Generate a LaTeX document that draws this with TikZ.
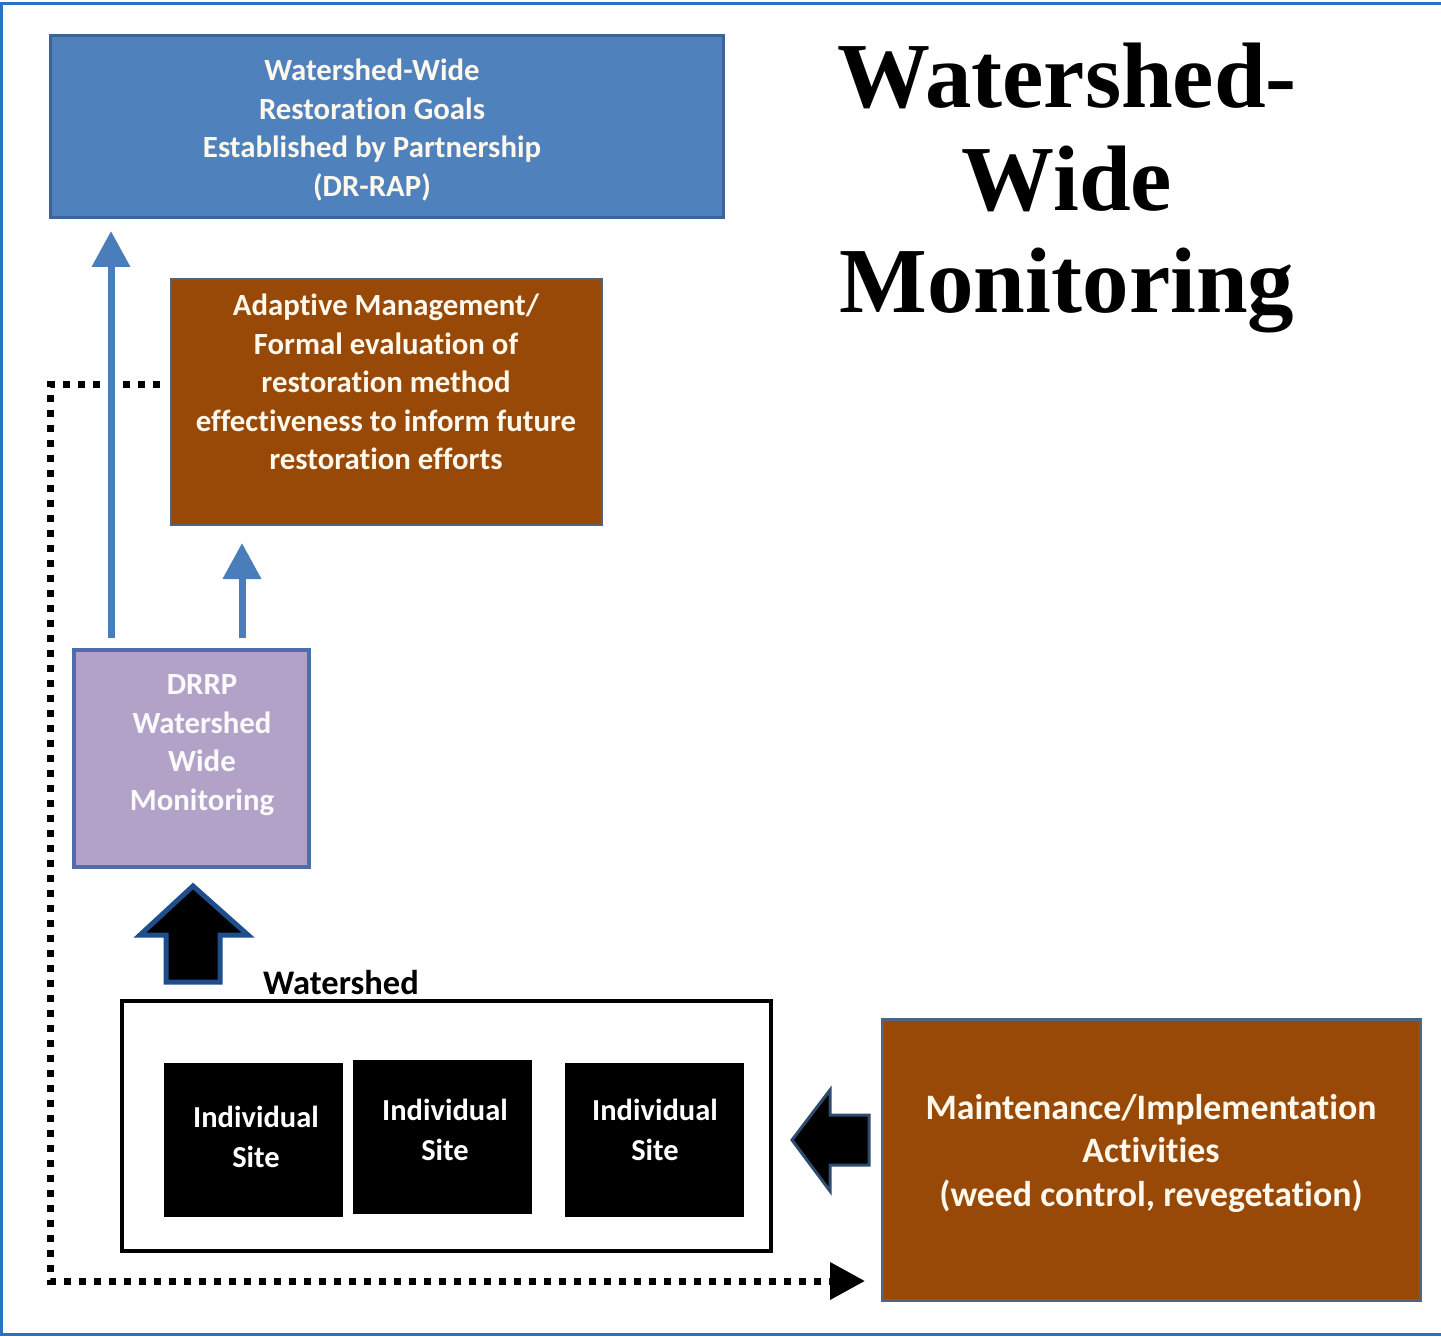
\documentclass[tikz,border=0pt]{standalone}
\usepackage{fontspec}
\setmainfont{Carlito}[Ligatures=NoCommon]
\newfontfamily\titlefont{Liberation Serif}
\usetikzlibrary{arrows.meta}
\definecolor{framec}{HTML}{2A73C4}
\definecolor{goalblue}{HTML}{4F81BD}
\definecolor{goalborder}{HTML}{3B649A}
\definecolor{brownbox}{HTML}{984807}
\definecolor{brownborder}{HTML}{4F6480}
\definecolor{lilac}{HTML}{B3A2C7}
\definecolor{lilacborder}{HTML}{4F6EA8}
\definecolor{arrowblue}{HTML}{4A7EBB}
\definecolor{navyline}{HTML}{1F4E8C}
\definecolor{slateline}{HTML}{2F4B6E}
\definecolor{creamtext}{HTML}{FFF8EC}
\begin{document}
\begin{tikzpicture}[x=1pt,y=-1pt,
  boxrect/.style={rectangle, inner sep=0pt, outer sep=0pt},
  boxtext/.style={align=center, inner sep=0pt, text=creamtext, font=\bfseries\fontsize{30.8}{38.5}\selectfont},
  sitebox/.style={boxrect, fill=black, minimum width=179pt, minimum height=154pt},
  sitetext/.style={align=center, inner sep=0pt, text=white, font=\bfseries\fontsize{30.5}{40}\selectfont},
  bluearrow/.style={draw=arrowblue, line width=7pt, -{Triangle[width=37pt,length=36pt]}},
  dotline/.style={draw=black, line width=7pt, dash pattern=on 7pt off 8pt}
]
\useasboundingbox (0,0) rectangle (1441,1337);
% frame
\draw[framec, line width=3pt] (1441,4) -- (1.5,4) -- (1.5,1334) -- (1441,1334);

% title
\node[align=center, inner sep=0pt, font=\titlefont\bfseries\fontsize{93}{103}\selectfont] (title) at (1067,188) {Watershed-\\Wide\\Monitoring};

% boxes
\node[boxrect, fill=goalblue, draw=goalborder, line width=3pt, minimum width=673pt, minimum height=182pt] (goals) at (386.5,127) {};
\node[boxtext] (goalstxt) at (372,130) {Watershed-Wide\\Restoration Goals\\Established by Partnership\\(DR-RAP)};

\node[boxrect, fill=brownbox, draw=brownborder, line width=2.5pt, minimum width=431pt, minimum height=246pt] (adapt) at (386.5,402) {};
\node[boxtext] (adapttxt) at (386,382) {Adaptive Management/\\Formal evaluation of\\restoration method\\effectiveness to inform future\\restoration efforts};

\node[boxrect, fill=lilac, draw=lilacborder, line width=3.5pt, minimum width=235pt, minimum height=217pt] (drrp) at (191.5,758.5) {};
\node[boxtext, text=white!95!lilac] (drrptxt) at (202,745) {DRRP\\Watershed\\Wide\\Monitoring};

\node[boxrect, draw=black, line width=4pt, minimum width=649pt, minimum height=250pt] (ws) at (446.5,1126) {};
\node[inner sep=0pt, font=\bfseries\fontsize{34.5}{40}\selectfont] (wslabel) at (341,983) {Watershed};

\node[sitebox] (site1) at (253.5,1140) {};
\node[sitetext] (site1txt) at (256,1137) {Individual\\Site};
\node[sitebox] (site2) at (442.5,1137) {};
\node[sitetext] (site2txt) at (445,1130) {Individual\\Site};
\node[sitebox] (site3) at (654.5,1140) {};
\node[sitetext] (site3txt) at (655,1130) {Individual\\Site};

\node[boxrect, fill=brownbox, draw=brownborder, line width=3pt, minimum width=538pt, minimum height=281pt] (maint) at (1151,1159.5) {};
\node[boxtext, font=\bfseries\fontsize{35.8}{43.5}\selectfont] (mainttxt) at (1151,1153) {Maintenance/Implementation\\Activities\\(weed control, revegetation)};

% dotted feedback line
\coordinate (dstart) at (160,385);
\coordinate (dc1) at (50,385);
\coordinate (dc2) at (50,1281);
\draw[dotline, -{Triangle[width=36pt,length=35pt]}, shorten >=17pt] (dstart) -- (dc1) -- (dc2) -- (dc2 -| maint.west);

% blue arrows
\coordinate (l1) at (111,638);
\coordinate (l2) at (242,638);
\draw[bluearrow, shorten >=13pt] (l1) -- (l1 |- goals.south);
\draw[bluearrow, shorten >=18pt] (l2) -- (l2 |- adapt.south);

% block arrow up
\draw[fill=black, draw=navyline, line width=5pt, line join=miter] (193,886) -- (248,935) -- (220,935) -- (220,982) -- (166,982) -- (166,935) -- (140,935) -- cycle;

% block arrow left
\draw[fill=black, draw=slateline, line width=3pt, line join=miter] (792,1140) -- (830,1090) -- (830,1115) -- (869,1115) -- (869,1165) -- (830,1165) -- (830,1191) -- cycle;
\end{tikzpicture}
\end{document}
